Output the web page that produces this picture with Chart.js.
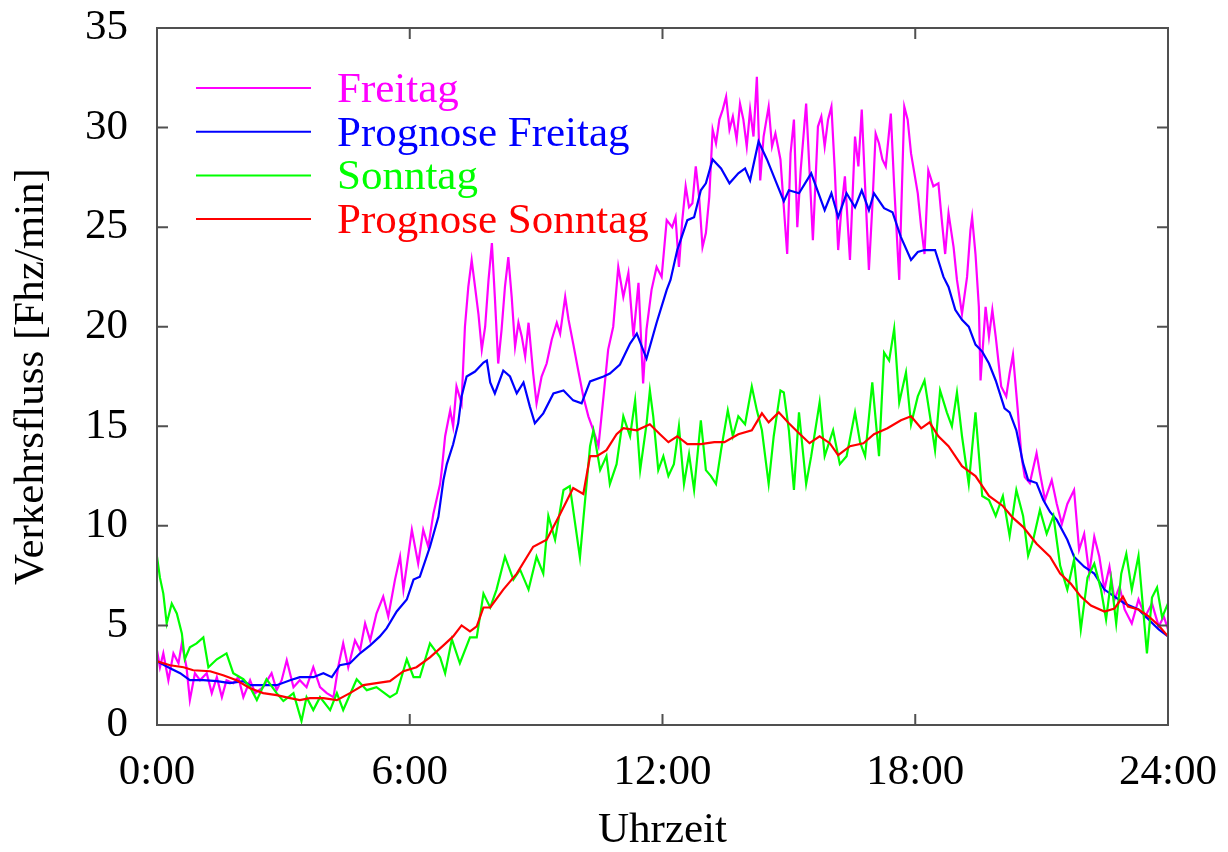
<!DOCTYPE html>
<html>
<head>
<meta charset="utf-8">
<script src="https://cdn.jsdelivr.net/npm/chart.js@4.4.1/dist/chart.umd.min.js"></script>
<style>
  html, body { margin: 0; padding: 0; background: #ffffff; }
  #wrap { width: 1228px; height: 852px; }
</style>
</head>
<body>
<div id="wrap"><canvas id="c" width="1228" height="852"></canvas></div>
<script>
// ---------------- data (hours, Fhz/min) ----------------
const seriesNames = ["Freitag", "Prognose Freitag", "Sonntag", "Prognose Sonntag"];
const xTickHours = [0, 6, 12, 18, 24];
const yTickValues = [0, 5, 10, 15, 20, 25, 30, 35];

const freitagTime = [0,0.07,0.15,0.27,0.39,0.51,0.59,0.70,0.78,0.90,1.02,1.18,1.30,1.42,1.54,1.65,1.81,1.93,2.05,2.21,2.33,2.52,2.72,2.84,2.96,3.08,3.24,3.39,3.55,3.71,3.87,4.03,4.19,4.30,4.42,4.54,4.70,4.82,4.94,5.06,5.21,5.37,5.49,5.65,5.77,5.85,6.05,6.20,6.32,6.44,6.56,6.72,6.76,6.84,6.96,7.03,7.11,7.23,7.31,7.39,7.47,7.55,7.63,7.71,7.79,7.87,7.95,8.02,8.10,8.18,8.26,8.34,8.42,8.50,8.58,8.66,8.74,8.82,8.93,9.01,9.13,9.25,9.37,9.49,9.57,9.69,9.77,9.88,10.0,10.12,10.24,10.36,10.48,10.60,10.71,10.83,10.95,11.07,11.19,11.31,11.43,11.54,11.62,11.74,11.86,11.98,12.10,12.23,12.31,12.39,12.47,12.55,12.63,12.71,12.79,12.87,12.95,13.03,13.11,13.19,13.27,13.35,13.43,13.51,13.59,13.67,13.76,13.84,13.92,14.0,14.08,14.16,14.24,14.32,14.40,14.52,14.60,14.68,14.80,14.88,14.96,15.04,15.12,15.20,15.28,15.41,15.49,15.57,15.69,15.77,15.85,15.93,16.01,16.09,16.17,16.25,16.33,16.45,16.57,16.65,16.73,16.81,16.90,16.98,17.06,17.14,17.22,17.30,17.42,17.50,17.62,17.74,17.82,17.90,17.98,18.06,18.14,18.22,18.31,18.43,18.55,18.63,18.71,18.79,18.91,18.99,19.11,19.23,19.31,19.35,19.43,19.51,19.55,19.67,19.75,19.83,19.91,20.04,20.16,20.24,20.32,20.44,20.52,20.60,20.72,20.88,20.96,21.08,21.24,21.36,21.48,21.61,21.77,21.89,22.01,22.13,22.25,22.37,22.49,22.61,22.73,22.85,22.97,23.14,23.30,23.46,23.62,23.78,23.90,24.0];
const freitagValues = [3.75,2.9,3.6,2.25,3.6,3.1,4.1,2.9,1.25,2.6,2.25,2.6,1.6,2.4,1.4,2.25,2.1,2.4,1.4,2.25,1.6,1.9,2.6,1.75,2.25,3.25,1.9,2.25,1.9,2.9,1.9,1.6,1.4,2.9,4.1,2.9,4.25,3.75,5.1,4.25,5.6,6.45,5.45,7.3,8.45,6.8,9.8,8.1,9.8,8.95,10.6,12.1,12.8,14.5,15.8,15.0,17.0,16.15,20.0,22.0,23.35,22.0,20.65,18.85,20.0,22.35,24.2,21.5,18.15,19.85,22.0,23.5,21.5,19.0,20.2,19.5,18.5,20.2,17.65,16.15,17.5,18.15,19.35,20.2,19.65,21.5,20.35,19.15,17.8,16.5,15.5,14.8,14.0,16.5,18.85,20.0,23.0,21.5,22.7,19.5,22.2,17.15,19.85,21.85,23.0,22.5,25.35,25.0,25.5,23.0,25.35,27.05,26.0,26.2,28.05,26.5,24.0,24.7,26.5,29.9,29.2,30.4,30.9,31.55,29.9,30.55,29.4,31.2,30.4,29.05,30.9,29.55,32.55,27.35,29.55,31.05,29.05,29.7,28.4,26.0,23.65,28.7,30.4,25.0,27.85,31.2,27.85,24.35,30.05,30.55,29.05,30.4,31.05,27.85,23.85,26.0,27.55,23.35,29.55,28.05,30.9,27.05,22.85,26.0,29.7,29.2,28.4,28.05,30.7,27.05,22.35,31.05,30.4,28.7,27.7,26.7,25.0,23.65,27.85,27.05,27.2,25.35,23.65,25.7,24.0,22.35,20.65,22.5,24.85,25.5,23.65,21.0,17.3,21.0,19.5,20.85,19.5,17.0,16.5,17.65,18.6,15.65,13.5,12.45,12.15,13.65,12.65,11.3,12.3,11.1,10.1,11.1,11.8,8.8,9.6,7.6,9.45,8.45,6.8,7.95,6.3,6.95,5.8,5.1,6.3,5.45,6.1,4.95,5.45,4.8];

const prognoseFreitagTime = [0,0.31,0.55,0.78,1.10,1.42,1.73,2.05,2.21,2.52,2.84,3.16,3.39,3.71,3.95,4.15,4.34,4.58,4.82,5.06,5.29,5.45,5.69,5.93,6.09,6.24,6.48,6.68,6.80,6.88,7.03,7.15,7.23,7.35,7.55,7.75,7.83,7.91,8.02,8.22,8.38,8.54,8.70,8.85,8.97,9.17,9.41,9.65,9.88,10.08,10.28,10.60,10.75,10.99,11.23,11.39,11.62,11.86,12.10,12.19,12.35,12.59,12.75,12.91,13.03,13.19,13.39,13.59,13.80,13.96,14.08,14.28,14.48,14.68,14.88,15.0,15.24,15.53,15.85,16.01,16.17,16.37,16.57,16.73,16.90,17.02,17.26,17.46,17.66,17.90,18.06,18.22,18.47,18.67,18.79,18.95,19.11,19.27,19.43,19.59,19.75,19.91,20.12,20.24,20.40,20.56,20.68,20.88,21.04,21.20,21.36,21.61,21.77,22.01,22.25,22.49,22.73,22.97,23.30,23.54,23.78,24.0];
const prognoseFreitagValues = [3.2,2.85,2.6,2.25,2.25,2.2,2.1,2.2,2.0,2.0,2.0,2.25,2.4,2.4,2.6,2.4,3.0,3.1,3.6,4.0,4.45,4.85,5.7,6.3,7.3,7.45,8.95,10.45,12.3,13.1,14.1,15.15,16.5,17.5,17.75,18.2,18.3,17.2,16.65,17.8,17.5,16.65,17.2,16.0,15.15,15.65,16.65,16.8,16.3,16.15,17.25,17.5,17.65,18.1,19.15,19.65,18.4,20.2,21.85,22.35,23.85,25.35,25.5,26.85,27.2,28.4,27.95,27.2,27.7,27.95,27.35,29.3,28.4,27.35,26.3,26.85,26.7,27.7,25.85,26.7,25.5,26.7,26.0,26.85,25.85,26.7,25.95,25.75,24.5,23.35,23.75,23.85,23.85,22.5,22.0,20.85,20.35,20.0,19.1,18.75,18.15,17.3,15.9,15.7,14.8,13.15,12.3,12.15,11.3,10.7,10.3,9.3,8.45,7.95,7.6,6.8,6.45,6.1,5.8,5.3,4.8,4.45];

const sonntagTime = [0,0.07,0.15,0.23,0.35,0.47,0.59,0.66,0.78,0.94,1.10,1.22,1.42,1.65,1.81,2.05,2.21,2.37,2.60,2.84,3.0,3.24,3.43,3.55,3.71,3.87,4.11,4.27,4.42,4.74,4.98,5.21,5.53,5.69,5.93,6.09,6.24,6.48,6.72,6.84,7.0,7.19,7.43,7.59,7.75,7.91,8.06,8.26,8.46,8.62,8.82,9.01,9.17,9.29,9.45,9.65,9.80,10.04,10.12,10.28,10.36,10.44,10.52,10.67,10.75,10.91,11.07,11.23,11.35,11.47,11.62,11.70,11.78,11.90,12.02,12.14,12.27,12.39,12.51,12.63,12.75,12.91,13.03,13.15,13.27,13.39,13.55,13.67,13.80,13.96,14.12,14.24,14.36,14.52,14.64,14.80,14.88,15.0,15.12,15.24,15.41,15.53,15.73,15.85,16.05,16.21,16.37,16.57,16.69,16.81,16.98,17.14,17.26,17.38,17.50,17.62,17.78,17.90,18.06,18.22,18.38,18.47,18.59,18.75,18.87,18.99,19.11,19.27,19.43,19.59,19.75,19.91,20.08,20.24,20.40,20.56,20.68,20.80,20.96,21.12,21.28,21.44,21.61,21.77,21.93,22.09,22.25,22.41,22.53,22.65,22.77,22.89,23.01,23.14,23.30,23.50,23.62,23.74,23.86,24.0];
const sonntagValues = [8.45,7.4,6.6,5.1,6.1,5.6,4.6,3.3,3.9,4.1,4.4,2.9,3.3,3.6,2.6,2.3,1.9,1.25,2.3,1.6,1.2,1.6,0.2,1.4,0.75,1.4,0.75,1.6,0.75,2.3,1.75,1.9,1.4,1.6,3.3,2.4,2.4,4.1,3.4,2.6,4.3,3.1,4.4,4.4,6.6,5.9,6.8,8.45,7.3,7.8,6.8,8.45,7.6,10.5,9.3,11.8,12.0,8.4,10.3,14.0,14.8,13.8,12.8,13.5,12.1,13.1,15.5,14.5,16.3,12.8,15.1,16.8,15.5,12.8,13.5,12.5,13.1,15.0,12.1,13.6,11.8,15.3,12.8,12.5,12.1,13.8,15.8,14.5,15.5,15.1,17.0,15.8,14.8,12.1,14.5,16.8,16.7,14.8,11.8,15.7,12.1,13.5,16.2,13.5,14.8,13.1,13.5,15.7,14.2,13.5,17.2,13.5,18.7,18.3,19.9,16.2,17.7,15.1,16.5,17.3,15.1,13.8,16.8,15.7,15.0,16.7,14.5,12.1,15.7,11.5,11.3,10.5,11.5,9.5,11.8,10.5,8.5,9.3,10.8,9.6,10.5,8.0,6.8,8.3,4.8,7.4,8.1,6.8,5.3,7.3,5.1,7.6,8.6,6.8,8.5,3.6,6.4,6.9,5.4,6.1];

const prognoseSonntagTime = [0,0.31,0.63,0.86,1.26,1.57,1.89,2.21,2.52,2.84,3.16,3.39,3.63,3.95,4.27,4.58,4.90,5.21,5.53,5.85,6.16,6.48,6.80,7.03,7.23,7.43,7.59,7.75,7.91,8.22,8.54,8.93,9.25,9.57,9.88,10.12,10.28,10.44,10.67,10.91,11.07,11.39,11.70,11.94,12.14,12.35,12.59,12.91,13.23,13.47,13.80,14.12,14.36,14.52,14.76,15.0,15.24,15.49,15.73,15.97,16.17,16.45,16.77,17.02,17.34,17.66,17.90,18.14,18.34,18.55,18.79,19.11,19.43,19.75,20.08,20.32,20.56,20.88,21.20,21.44,21.69,21.93,22.17,22.49,22.73,22.93,23.05,23.30,23.54,23.78,24.0];
const prognoseSonntagValues = [3.2,3.0,2.9,2.75,2.7,2.5,2.25,1.85,1.6,1.5,1.35,1.25,1.35,1.35,1.25,1.6,2.0,2.1,2.2,2.7,2.9,3.4,4.0,4.45,5.0,4.7,4.95,5.9,5.9,6.8,7.6,8.95,9.3,10.6,11.9,11.6,13.5,13.5,13.8,14.6,14.9,14.8,15.1,14.6,14.2,14.5,14.1,14.1,14.2,14.2,14.6,14.8,15.65,15.2,15.7,15.15,14.65,14.15,14.5,14.15,13.55,14.0,14.15,14.6,14.9,15.3,15.5,14.9,15.2,14.5,14.0,13.0,12.5,11.5,11.0,10.4,9.95,9.1,8.45,7.6,7.1,6.45,6.0,5.7,5.85,6.45,5.95,5.8,5.45,5.0,4.45];

const seriesColors = ["#ff00ff", "#0000ff", "#00ff00", "#ff0000"];

// ---------------- helpers ----------------
function pts(times, values) { return times.map((t, i) => ({ x: t, y: values[i] })); }

const FONT = "'Liberation Serif', 'Times New Roman', serif";
const FRAME = "#505050";

const series = [
  { t: freitagTime, v: freitagValues },
  { t: prognoseFreitagTime, v: prognoseFreitagValues },
  { t: sonntagTime, v: sonntagValues },
  { t: prognoseSonntagTime, v: prognoseSonntagValues }
];

const datasets = series.map((s, i) => ({
  label: seriesNames[i],
  data: pts(s.t, s.v),
  borderColor: seriesColors[i],
  backgroundColor: seriesColors[i],
  borderWidth: 2.2,
  pointRadius: 0,
  tension: 0,
  fill: false,
  order: 4 - i
}));

const framePlugin = {
  id: 'frameTicksLegend',
  afterDatasetsDraw(chart) {
    const ctx = chart.ctx;
    const a = chart.chartArea;
    const xs = chart.scales.x, ys = chart.scales.y;
    ctx.save();
    ctx.strokeStyle = FRAME;
    ctx.lineWidth = 2;
    ctx.strokeRect(a.left, a.top, a.right - a.left, a.bottom - a.top);
    ctx.beginPath();
    const tl = 11;
    xTickHours.forEach(h => {
      const px = xs.getPixelForValue(h);
      ctx.moveTo(px, a.bottom); ctx.lineTo(px, a.bottom - tl);
      ctx.moveTo(px, a.top); ctx.lineTo(px, a.top + tl);
    });
    yTickValues.forEach(v => {
      const py = ys.getPixelForValue(v);
      ctx.moveTo(a.left, py); ctx.lineTo(a.left + tl, py);
      ctx.moveTo(a.right, py); ctx.lineTo(a.right - tl, py);
    });
    ctx.stroke();

    // legend
    ctx.font = "43px " + FONT;
    ctx.textAlign = 'left';
    ctx.textBaseline = 'alphabetic';
    chart.data.datasets.forEach((ds, i) => {
      const rowY = a.top + 60 + i * 43.7;
      ctx.strokeStyle = ds.borderColor;
      ctx.lineWidth = 2;
      ctx.beginPath();
      ctx.moveTo(a.left + 39, rowY);
      ctx.lineTo(a.left + 154, rowY);
      ctx.stroke();
      ctx.fillStyle = ds.borderColor;
      ctx.fillText(ds.label, a.left + 180, rowY + 14);
    });
    ctx.restore();
  }
};

new Chart(document.getElementById('c'), {
  type: 'line',
  data: { datasets },
  options: {
    responsive: false,
    devicePixelRatio: 1,
    animation: false,
    layout: { padding: { top: 28, right: 60, left: 0, bottom: 0 } },
    plugins: { legend: { display: false }, tooltip: { enabled: false } },
    scales: {
      x: {
        type: 'linear',
        min: 0, max: 24,
        afterFit(scale) { scale.height = 127; scale.paddingLeft = 0; scale.paddingRight = 0; },
        afterBuildTicks(scale) { scale.ticks = xTickHours.map(v => ({ value: v })); },
        grid: { display: false, drawTicks: false },
        border: { display: false },
        ticks: {
          padding: 22,
          maxRotation: 0,
          autoSkip: false,
          color: '#000000',
          font: { family: FONT, size: 43 },
          callback: v => v + ':00'
        },
        title: {
          display: true,
          text: 'Uhrzeit',
          color: '#000000',
          font: { family: FONT, size: 43, lineHeight: 1 },
          padding: { top: 0, bottom: 0 }
        }
      },
      y: {
        type: 'linear',
        min: 0, max: 35,
        afterFit(scale) { scale.width = 157; scale.paddingTop = 0; scale.paddingBottom = 0; },
        afterBuildTicks(scale) { scale.ticks = yTickValues.map(v => ({ value: v })); },
        grid: { display: false, drawTicks: false },
        border: { display: false },
        ticks: {
          padding: 29,
          autoSkip: false,
          color: '#000000',
          font: { family: FONT, size: 43 }
        },
        title: {
          display: true,
          text: 'Verkehrsfluss [Fhz/min]',
          color: '#000000',
          font: { family: FONT, size: 43, lineHeight: 1 },
          padding: { top: 10, bottom: 0 }
        }
      }
    }
  },
  plugins: [framePlugin]
});
</script>
</body>
</html>
